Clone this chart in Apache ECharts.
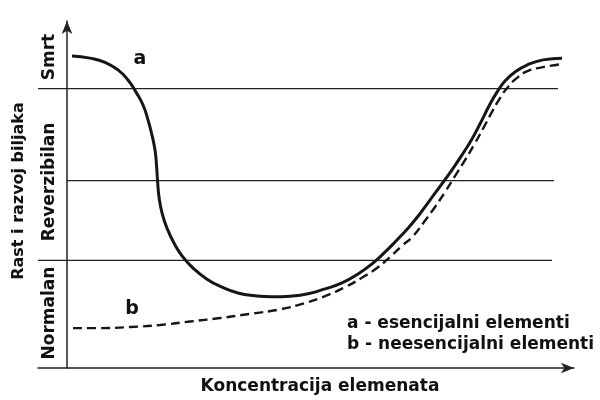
<!DOCTYPE html>
<html>
<head>
<meta charset="utf-8">
<script src="https://cdn.jsdelivr.net/npm/echarts@6/dist/echarts.min.js"></script>
<style>
  html, body { margin: 0; padding: 0; background: #fff; }
  #chart { width: 600px; height: 400px; }
</style>
</head>
<body>
<div id="chart"></div>
<script>
// krivulja a - esencijalni elementi (koncentracija, odgovor biljke)
var aX = [1.0, 4.6, 7.6, 10.2, 12.2, 13.8, 15.2, 16.2, 17.0, 17.6, 17.9, 18.1, 18.4, 19.0, 20.0, 21.4, 23.0, 25.2, 28.0, 31.0, 34.2, 37.6, 41.0, 44.6, 48.2, 51.6, 55.0, 58.2, 61.0, 63.6, 66.0, 68.2, 70.4, 72.6, 74.8, 77.0, 79.0, 81.0, 82.8, 84.4, 86.0, 87.6, 89.6, 92.0, 95.2, 99.0]
var aY = [89.9, 89.3, 88.1, 85.9, 83.0, 79.5, 75.8, 71.5, 67.1, 62.8, 58.5, 54.2, 49.3, 44.7, 40.3, 36.0, 32.3, 28.8, 25.6, 23.3, 21.6, 20.8, 20.5, 20.7, 21.4, 22.8, 24.5, 27.1, 30.0, 33.4, 36.9, 40.3, 44.1, 48.4, 52.7, 57.1, 61.4, 66.0, 70.9, 75.5, 79.5, 82.7, 85.3, 87.3, 88.8, 89.3]

// krivulja b - neesencijalni elementi
var bX = [1.2, 6.6, 12.6, 18.6, 24.6, 30.6, 36.6, 42.6, 47.6, 51.6, 55.6, 59.2, 62.0, 64.6, 67.0, 69.2, 71.4, 73.6, 75.6, 77.6, 79.6, 81.6, 83.4, 85.0, 86.6, 88.2, 90.0, 92.2, 95.2, 99.0]
var bY = [11.5, 11.5, 11.8, 12.4, 13.4, 14.4, 15.6, 16.9, 18.7, 20.7, 23.3, 26.2, 28.8, 32.0, 35.2, 38.0, 42.1, 46.4, 50.7, 55.3, 59.9, 64.8, 69.5, 73.8, 77.8, 81.0, 83.6, 85.6, 86.7, 87.6]

// granice zona
var boundVals = [31, 54, 80.5]
var boundStart = [-5.8, 0, -5.8]
var boundEnd = [97, 97.4, 98.2]

var zoneNames = ['Normalan', 'Reverzibilan', 'Smrt']
var curveNames = ['a', 'b']
var legendLines = ['a - esencijalni elementi', 'b - neesencijalni elementi']
var xTitle = 'Koncentracija elemenata'
var yTitle = 'Rast i razvoj biljaka'

var FONT = '"DejaVu Sans", sans-serif'
var INK = '#161616'

var chart = echarts.init(document.getElementById('chart'))

function pairs (xs, ys) {
  var out = []
  xs.forEach(function (x, i) { out.push([x, ys[i]]) })
  return out
}

var series = []
boundVals.forEach(function (v, i) {
  series.push({
    type: 'line',
    silent: true,
    symbol: 'none',
    data: [[boundStart[i], v], [boundEnd[i], v]],
    lineStyle: { color: '#222', width: 1.3 }
  })
})
series.push({
  name: 'a',
  type: 'line',
  smooth: 0.5,
  symbol: 'none',
  data: pairs(aX, aY),
  lineStyle: { color: INK, width: 3 }
})
series.push({
  name: 'b',
  type: 'line',
  smooth: 0.5,
  symbol: 'none',
  data: pairs(bX, bY),
  lineStyle: { color: INK, width: 2.4, type: [9, 5] }
})

function txt (text, x, y, size, rot) {
  return {
    type: 'text',
    x: x,
    y: y,
    rotation: rot || 0,
    silent: true,
    style: {
      text: text,
      fill: '#111',
      font: 'bold ' + size + 'px ' + FONT,
      align: 'center',
      verticalAlign: 'middle'
    }
  }
}

var R = Math.PI / 2
var graphics = [
  txt(zoneNames[0], 50, 313, 17, R),
  txt(zoneNames[1], 50, 182, 17, R),
  txt(zoneNames[2], 50, 57, 17, R),
  txt(yTitle, 19, 191, 16, R),
  txt(xTitle, 320, 387, 17),
  txt(curveNames[0], 140, 59, 19),
  txt(curveNames[1], 132, 309, 19)
]
legendLines.forEach(function (t, i) {
  var g = txt(t, 347, 324 + i * 21, 17)
  g.style.align = 'left'
  graphics.push(g)
})

var option = {
  animation: false,
  backgroundColor: '#fff',
  grid: { left: 38, right: 26, top: 21, bottom: 32 },
  xAxis: {
    type: 'value',
    min: -5.8,
    max: 101.4,
    axisLine: {
      onZero: true,
      symbol: ['none', 'arrow'],
      symbolSize: [8, 13],
      lineStyle: { color: '#222', width: 1.5 }
    },
    axisTick: { show: false },
    axisLabel: { show: false },
    splitLine: { show: false }
  },
  yAxis: {
    type: 'value',
    min: 0,
    max: 100,
    axisLine: {
      show: true,
      onZero: true,
      symbol: ['none', 'arrow'],
      symbolSize: [8, 13],
      lineStyle: { color: '#222', width: 1.5 }
    },
    axisTick: { show: false },
    axisLabel: { show: false },
    splitLine: { show: false }
  },
  series: series,
  graphic: graphics
}
chart.setOption(option)
</script>
</body>
</html>
